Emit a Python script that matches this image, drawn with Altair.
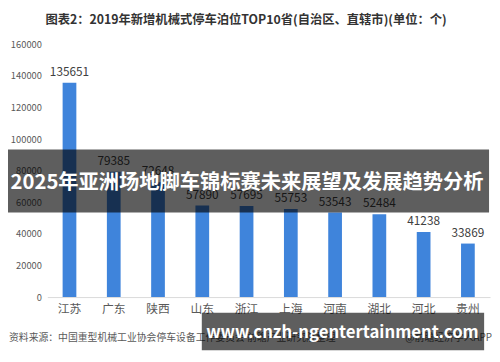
import altair as alt
import pandas as pd

provinces = ["江苏", "广东", "陕西", "山东", "浙江", "上海", "河南", "湖北", "河北", "贵州"]
values = [135651, 79385, 72648, 57890, 57695, 55753, 53543, 52484, 41238, 33869]
y_ticks = [0, 20000, 40000, 60000, 80000, 100000, 120000, 140000, 160000]

title_text = "图表2：2019年新增机械式停车泊位TOP10省(自治区、直辖市)(单位：个)"
source_text = "资料来源：中国重型机械工业协会停车设备工作委员会 前瞻产业研究院整理"
credit_text = "@前瞻经济学人APP"
banner_text = "2025年亚洲场地脚车锦标赛未来展望及发展趋势分析"
url_text = "www.cnzh-ngentertainment.com"

df = pd.DataFrame({"省份": provinces, "数量": values})
one = pd.DataFrame({"k": [0]})
FONT = "Noto Sans CJK SC"

base = alt.Chart(df)

bars = base.mark_bar(color="#3f84db").encode(
    x=alt.X("省份:N", sort=provinces, title=None,
            scale=alt.Scale(paddingInner=0.69, paddingOuter=0.345),
            axis=alt.Axis(labelAngle=0, labelFont=FONT, labelFontSize=12,
                          labelColor="#595959", domainColor="#d9d9d9",
                          ticks=False, labelPadding=7)),
    y=alt.Y("数量:Q", title=None,
            scale=alt.Scale(domain=[0, 160000], nice=False),
            axis=alt.Axis(values=y_ticks, tickCount=len(y_ticks) + 1, format="d",
                          labelFont=FONT, labelFontSize=9.5, labelColor="#595959",
                          grid=False, domain=False, ticks=False, labelPadding=6,
                          labelOverlap=False)),
)

labels = base.mark_text(font=FONT, fontSize=12, color="#404040",
                        baseline="bottom", dy=-4).encode(
    x=alt.X("省份:N", sort=provinces),
    y="数量:Q",
    text="数量:Q",
)

ann = alt.Chart(one)

title = ann.mark_text(font=FONT, fontSize=12.5, fontWeight="bold",
                      color="#333333", align="center").encode(
    x=alt.value(202), y=alt.value(-25), text=alt.value(title_text))

source = ann.mark_text(font=FONT, fontSize=10, color="#595959",
                       align="left").encode(
    x=alt.value(-39), y=alt.value(299), text=alt.value(source_text))

credit = ann.mark_text(font=FONT, fontSize=10, color="#595959",
                       align="right").encode(
    x=alt.value(452), y=alt.value(299), text=alt.value(credit_text))

banner = ann.mark_rect(color="black", opacity=0.63).encode(
    x=alt.value(-44), x2=alt.value(449), y=alt.value(107), y2=alt.value(171))

banner_label = ann.mark_text(font=FONT, fontSize=20.6, fontWeight="bold",
                             color="white", align="center",
                             baseline="middle").encode(
    x=alt.value(203), y=alt.value(141), text=alt.value(banner_text))

url_box = ann.mark_rect(color="black", opacity=0.63).encode(
    x=alt.value(157), x2=alt.value(444), y=alt.value(273), y2=alt.value(311))

url_label = ann.mark_text(font=FONT, fontSize=17, fontWeight="bold",
                          color="white", align="center",
                          baseline="middle").encode(
    x=alt.value(300), y=alt.value(294), text=alt.value(url_text))

chart = alt.layer(bars, labels, title, source, credit, banner, banner_label,
                  url_box, url_label).properties(
    width=450, height=257,
    autosize=alt.AutoSizeParams(type="none"),
    padding={"left": 40, "top": 34, "right": 2, "bottom": 55},
    background="white",
).configure_view(stroke=None)

chart.save("out.html", embed_options={"renderer": "svg", "actions": False})
